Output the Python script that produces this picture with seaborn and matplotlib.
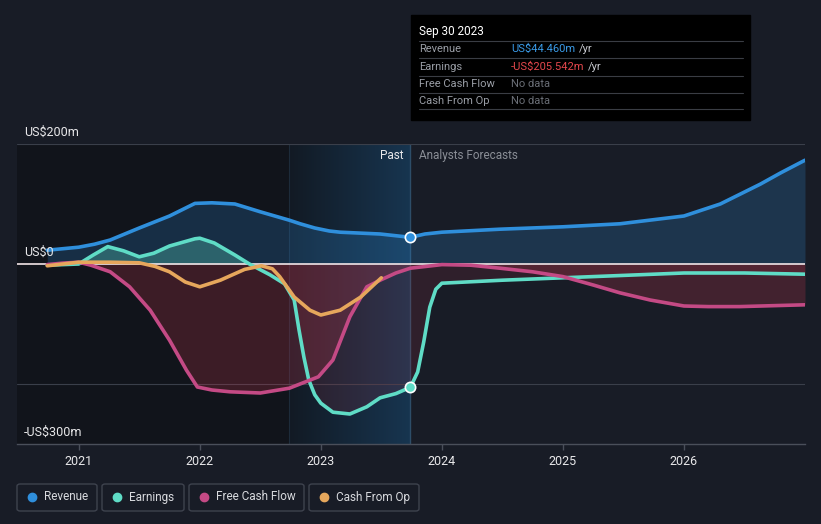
import numpy as np
import pandas as pd
import matplotlib.pyplot as plt
import seaborn as sns
from matplotlib.patches import FancyBboxPatch, Rectangle
from matplotlib.colors import LinearSegmentedColormap

# data (decimal years, US$m)
rev_x = [2020.74, 2021.0, 2021.13, 2021.26, 2021.5, 2021.75, 2021.88, 2021.96, 2022.1, 2022.29,
         2022.5, 2022.74, 2022.83, 2022.95, 2023.07, 2023.16, 2023.49, 2023.74, 2023.86, 2024.0,
         2024.48, 2025.0, 2025.47, 2026.0, 2026.15, 2026.3, 2026.46, 2026.63, 2026.8, 2027.0]
rev_y = [23, 28, 33, 40, 60, 80, 93, 101, 102, 100, 87, 73, 67, 60, 55, 53, 50, 44.46, 50, 53,
         58, 62, 67, 80, 90, 100, 116, 133, 152, 173]

earn_x = [2020.74, 2021.0, 2021.12, 2021.24, 2021.37, 2021.5, 2021.62, 2021.75, 2021.96, 2022.0,
          2022.12, 2022.29, 2022.41, 2022.58, 2022.7, 2022.78, 2022.82, 2022.86, 2022.9, 2022.95,
          2023.0, 2023.1, 2023.24, 2023.38, 2023.49, 2023.62, 2023.74, 2023.8, 2023.85, 2023.9,
          2023.95, 2024.0, 2024.5, 2025.0, 2025.5, 2026.0, 2026.5, 2027.0]
earn_y = [-2, 0, 15, 29, 22, 12, 18, 30, 42, 43, 35, 15, 0, -18, -33, -60, -110, -155, -193,
          -218, -232, -247, -250, -238, -223, -216, -205.542, -180, -130, -72, -42, -32, -27,
          -23, -19, -15, -15, -17]

fcf_x = [2020.74, 2020.87, 2021.0, 2021.1, 2021.26, 2021.42, 2021.59, 2021.75, 2021.89, 2021.98,
         2022.1, 2022.25, 2022.5, 2022.74, 2022.98, 2023.1, 2023.24, 2023.38, 2023.49, 2023.62,
         2023.74, 2024.0, 2024.24, 2024.48, 2024.75, 2025.0, 2025.25, 2025.47, 2025.72, 2026.0,
         2026.2, 2026.46, 2027.0]
fcf_y = [-1, 1.5, 3, -2, -13, -38, -77, -127, -177, -205, -210, -213, -215, -207, -188, -160, -88,
         -38, -27, -15, -7, -1, -2, -7, -13, -21, -35, -48, -60, -70, -71, -71, -68]

cfo_x = [2020.74, 2021.0, 2021.26, 2021.5, 2021.63, 2021.75, 2021.88, 2022.0, 2022.17, 2022.37,
         2022.51, 2022.6, 2022.66, 2022.78, 2022.91, 2023.0, 2023.16, 2023.33, 2023.5]
cfo_y = [-3, 3, 3, 2, -4, -13, -30, -38, -27, -9, -3, -8, -21, -55, -77, -85, -77, -55, -23]

year_ticks = [2021, 2022, 2023, 2024, 2025, 2026]

BG = '#181c26'
C_REV = '#2f8fdc'
C_EARN = '#5fdcc6'
C_FCF = '#c44a85'
C_CFO = '#e6a75c'

sns.set_theme(style='dark')
plt.rcParams['font.family'] = ['Roboto', 'DejaVu Sans']

fig = plt.figure(figsize=(8.21, 5.24), dpi=100, facecolor=BG)
W, H = 821, 524


def fx(x):
    return x / W


def fy(y):
    return 1 - y / H


ax = fig.add_axes([fx(17), fy(444), fx(805) - fx(17), fy(144) - fy(444)])
ax.set_facecolor(BG)
x0, x1 = 2020.49, 2027.0
ax.set_xlim(x0, x1)
ax.set_ylim(-300, 200)

# past shading + last year highlight
ax.axvspan(x0, 2022.74, color='#11141b', zorder=0, lw=0)
grad = np.linspace(0, 1, 256).reshape(1, -1)
cmap = LinearSegmentedColormap.from_list('hl', ['#121a24', '#173550'])
ax.imshow(grad, extent=[2022.74, 2023.74, -300, 200], aspect='auto', cmap=cmap, zorder=0)
ax.axvline(2022.74, color='#1d2b3a', lw=0.8, zorder=1)
ax.axvline(2023.74, color='#2d4d68', lw=1, zorder=1)

# grid lines
for v in [200, -200]:
    ax.axhline(v, color='#3a3f4a', lw=0.8, zorder=1)

# fills
ax.fill_between(rev_x, rev_y, 0, color=C_REV, alpha=0.22, lw=0, zorder=2)
ey = np.array(earn_y)
ax.fill_between(earn_x, ey, 0, where=ey >= 0, interpolate=True, color=C_EARN, alpha=0.3, lw=0, zorder=2)
ax.fill_between(earn_x, ey, 0, where=ey <= 0, interpolate=True, color='#c0354a', alpha=0.14, lw=0, zorder=2)
ax.fill_between(fcf_x, fcf_y, 0, color='#c0354a', alpha=0.25, lw=0, zorder=2)

ax.axhline(0, color='#f2e4e6', lw=1.2, zorder=3)

# lines
series = [(rev_x, rev_y, C_REV), (earn_x, earn_y, C_EARN), (fcf_x, fcf_y, C_FCF), (cfo_x, cfo_y, C_CFO)]
for xs, ys, c in series:
    df = pd.DataFrame({'x': xs, 'y': ys})
    sns.lineplot(data=df, x='x', y='y', ax=ax, color=c, lw=2.6, sort=False, zorder=4)

ax.scatter([2023.74], [44.46], s=55, color=C_REV, edgecolor='white', lw=1.2, zorder=6)
ax.scatter([2023.74], [-205.542], s=55, color=C_EARN, edgecolor='white', lw=1.2, zorder=6)

# axes styling
for s in ['top', 'right', 'left']:
    ax.spines[s].set_visible(False)
ax.spines['bottom'].set_color('#4a4f5a')
ax.spines['bottom'].set_linewidth(1)
ax.set_yticks([])
ax.set_xticks(year_ticks)
ax.set_xticklabels([str(y) for y in year_ticks], color='#e8e8ea', fontsize=9)
ax.tick_params(axis='x', colors='#4a4f5a', length=4, width=1, labelcolor='#e8e8ea', pad=4, bottom=True)
ax.set_xlabel('')
ax.set_ylabel('')
ax.grid(False)

fig.text(fx(24), fy(132), 'US$200m', color='#e8e8ea', fontsize=9, va='center')
fig.text(fx(24), fy(252), 'US$0', color='#e8e8ea', fontsize=9, va='center')
fig.text(fx(24), fy(432), '-US$300m', color='#e8e8ea', fontsize=9, va='center')

fig.text(fx(403), fy(156), 'Past', color='#e8e8ea', fontsize=8.5, va='center', ha='right')
fig.text(fx(419), fy(156), 'Analysts Forecasts', color='#8a8e96', fontsize=8.5, va='center')

# tooltip
fig.add_artist(Rectangle((fx(411), fy(120)), fx(750) - fx(411), fy(15) - fy(120),
                         transform=fig.transFigure, color='#000000', zorder=5))
fig.text(fx(419), fy(31), 'Sep 30 2023', color='white', fontsize=8.5, va='center', zorder=6)
rows = [('Revenue', 'US$44.460m', '#3a9be8'), ('Earnings', '-US$205.542m', '#e5484d'),
        ('Free Cash Flow', 'No data', '#6a6e76'), ('Cash From Op', 'No data', '#6a6e76')]
for i, (lab, val, col) in enumerate(rows):
    yy = 49 + i * 17.5
    fig.add_artist(plt.Line2D([fx(419), fx(743)], [fy(yy - 8.5), fy(yy - 8.5)],
                              transform=fig.transFigure, color='#3a3d44', lw=0.8, zorder=6))
    fig.text(fx(419), fy(yy), lab, color='#9a9ea6', fontsize=8, va='center', zorder=6)
    t = fig.text(fx(511), fy(yy), val, color=col, fontsize=8, va='center', zorder=6)
    if val != 'No data':
        fig.canvas.draw()
        bb = t.get_window_extent()
        fig.text(bb.x1 / fig.dpi / fig.get_figwidth() + 0.004, fy(yy), '/yr', color='#c8cad0',
                 fontsize=8, va='center', zorder=6)
fig.add_artist(plt.Line2D([fx(419), fx(743)], [fy(109), fy(109)],
                          transform=fig.transFigure, color='#3a3d44', lw=0.8, zorder=6))

# legend boxes
legend = [('Revenue', C_REV, 17, 97), ('Earnings', C_EARN, 102, 184),
          ('Free Cash Flow', C_FCF, 189, 304), ('Cash From Op', C_CFO, 309, 419)]
for name, c, l, r in legend:
    fig.add_artist(FancyBboxPatch((fx(l), fy(511)), fx(r) - fx(l), fy(484) - fy(511),
                                  boxstyle='round,pad=0,rounding_size=0.004',
                                  transform=fig.transFigure, facecolor='none',
                                  edgecolor='#3e434e', lw=1))
    fig.add_artist(plt.Line2D([fx(l + 15)], [fy(497)], marker='o', markersize=6, color=c,
                              transform=fig.transFigure, lw=0))
    fig.text(fx(l + 27), fy(497), name, color='#d8dade', fontsize=8.5, va='center')

fig.savefig('out.png', dpi=100, facecolor=BG)
